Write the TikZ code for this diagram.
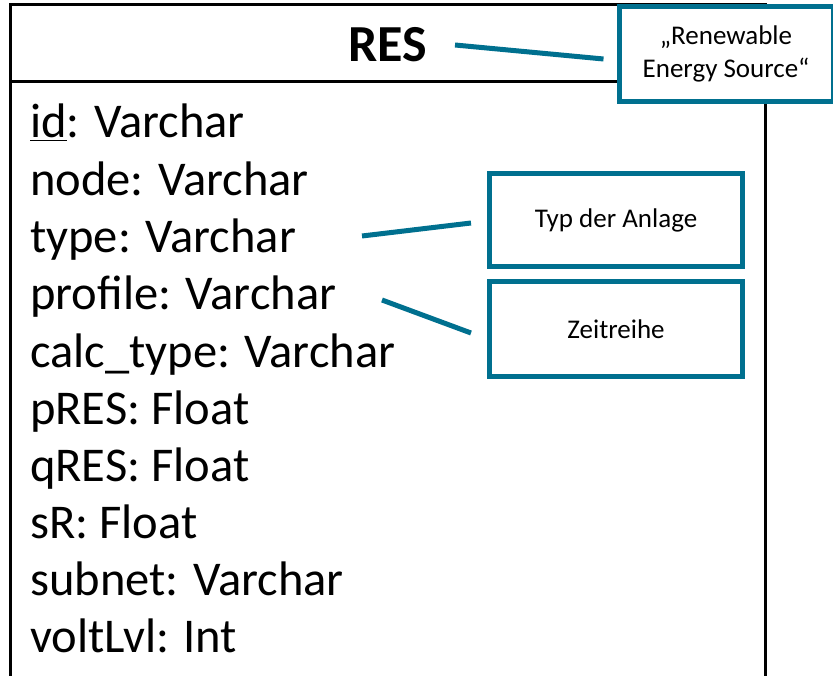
\documentclass[tikz,border=0pt]{standalone}
\usepackage{fontspec}
\setmainfont{Carlito}
\definecolor{teal}{HTML}{00708F}
\begin{document}
\begin{tikzpicture}[x=1pt,y=-1pt,
  frame/.style={line width=3pt,black},
  attr/.style={anchor=base west,inner sep=0pt,font=\fontsize{48.5}{52}\selectfont},
  note/.style={draw=teal,line width=5pt,fill=white,align=center,
    font=\fontsize{27}{33}\selectfont,inner sep=0pt},
  link/.style={draw=teal,line width=5pt}]
\useasboundingbox (0,0) rectangle (833,676);
% class frame, open at the bottom
\draw[frame] (10,676) |- (765,5) -- (765,676);
\draw[frame] (10,82) -- (765,82);
\node[inner sep=0pt,font=\fontsize{52}{56}\selectfont\bfseries] (title) at (388,45) {RES};
% attributes
\node[attr] (a1) at (30,138) {\underline{id}: Varchar};
\node[attr] (a2) at (30,196) {node: Varchar};
\node[attr] (a3) at (30,253) {type: Varchar};
\node[attr] (a4) at (30,310) {profile: Varchar};
\node[attr] (a5) at (30,367) {calc\_type: Varchar};
\node[attr] (a6) at (30,424) {pRES: Float};
\node[attr] (a7) at (30,481) {qRES: Float};
\node[attr] (a8) at (30,538) {sR: Float};
\node[attr] (a9) at (30,595) {subnet: Varchar};
\node[attr] (a10) at (30,652) {voltLvl: Int};
% notes
\node[note,minimum width=214pt,minimum height=95pt] (n1) at (726,54)
  {„Renewable\\Energy Source“};
\node[note,minimum width=253pt,minimum height=93pt] (n2) at (616,220) {Typ der Anlage};
\node[note,minimum width=253pt,minimum height=95pt] (n3) at (616,329) {Zeitreihe};
% connectors
\coordinate (s1) at (455,45);
\coordinate (s2) at (362,236);
\coordinate (s3) at (382,300);
\draw[link] (s1) -- ([xshift=-13pt,yshift=-5pt]n1.west);
\draw[link] (s2) -- ([xshift=-16pt,yshift=-3pt]n2.west);
\draw[link] (s3) -- ([xshift=-16pt,yshift=-4pt]n3.west);
\end{tikzpicture}
\end{document}
